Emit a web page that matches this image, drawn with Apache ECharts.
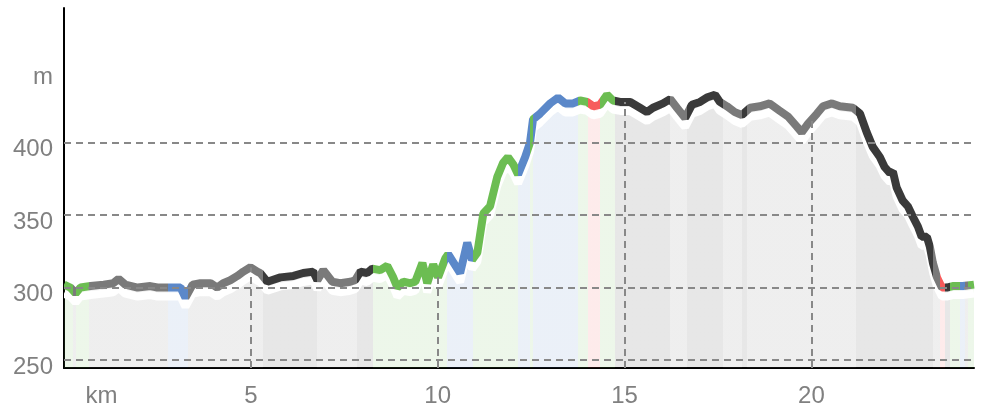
<!DOCTYPE html>
<html>
<head>
<meta charset="utf-8">
<script src="https://cdn.jsdelivr.net/npm/echarts@6/dist/echarts.min.js"></script>
<style>
html, body { margin: 0; padding: 0; background: #fff; }
#main { width: 983px; height: 408px; }
</style>
</head>
<body>
<div id="main"></div>
<script>
// elevation profile
var distKm = [0,0.17,0.31,0.44,0.71,1.06,1.32,1.46,1.64,1.97,
    2.31,2.50,2.77,3.12,3.25,3.44,3.65,3.92,4.10,4.26,
    4.45,4.64,4.80,4.99,5.17,5.25,5.44,5.79,6.14,6.40,
    6.67,6.78,6.94,7.18,7.39,7.66,7.79,7.93,8.11,8.25,
    8.46,8.65,8.81,8.92,9.08,9.26,9.40,9.59,9.72,9.88,
    10.01,10.20,10.28,10.60,10.79,10.92,11.06,11.22,11.40,11.59,
    11.75,11.88,12.02,12.15,12.34,12.47,12.55,12.74,13.01,13.22,
    13.41,13.62,13.81,14.00,14.16,14.34,14.53,14.69,14.88,15.15,
    15.41,15.60,15.76,16.03,16.22,16.40,16.62,16.80,17.02,17.20,
    17.42,17.55,17.74,17.95,18.14,18.36,18.62,18.88,19.15,19.37,
    19.61,19.74,19.91,20.15,20.31,20.55,20.76,21.11,21.30,21.48,
    21.64,21.83,21.96,22.10,22.18,22.28,22.44,22.58,22.71,22.85,
    22.95,23.09,23.17,23.25,23.36,23.49,23.62,23.78,24.05,24.35];
var elevM = [302,300,296,300,301,302,303,306,302,300,
    301,300,300,300,293,302,303,303,300,303,
    305,308,311,314,311,310,304,307,308,310,
    311,305,312,304,303,304,305,311,310,313,
    312,315,307,300,304,303,304,317,303,316,
    307,320,323,310,331,319,324,351,356,376,
    386,390,385,378,390,400,416,420,427,431,
    427,427,429,428,425,426,433,429,428,428,
    424,421,424,427,430,424,417,426,428,431,
    433,428,425,421,419,424,425,427,422,418,
    411,407,413,420,425,427,425,424,420,407,
    397,390,383,379,380,369,360,356,349,342,
    335,335,328,317,307,300,300,301,301,302];

// coloured sections of the track
var G = '#6cbd52', B = '#5b88c9', L = '#7a7a7a', D = '#3a3a3a', R = '#f75c5c';
var segStart = [0,0.25,0.33,0.66,2.77,3.33,5.33,6.76,7.85,8.28,
    10.26,10.95,12.15,12.47,12.55,13.76,14.03,14.34,14.75,16.22,
    16.67,17.64,18.14,18.27,21.19,23.25,23.44,23.57,23.70,23.97,
    24.10,24.18];
var segColor = [G,L,G,L,B,L,D,L,D,G,
    B,G,B,G,B,G,R,G,D,L,
    D,L,D,L,D,L,R,D,G,B,
    L,G];

var xTicks = [1, 5, 10, 15, 20];
var yTicks = [250, 300, 350, 400, 450];
var gridLevels = [250, 300, 350, 400];
var markKm = [5, 10, 15, 20];
var yMin = 244.5, yMax = 492.8, xMax = 24.35;

var profile = distKm.map(function (k, i) { return [k, elevM[i]]; });

function elevAt(k) {
    for (var i = 1; i < distKm.length; i++) {
        if (distKm[i] >= k) {
            var t = (k - distKm[i - 1]) / (distKm[i] - distKm[i - 1]);
            return elevM[i - 1] + t * (elevM[i] - elevM[i - 1]);
        }
    }
    return elevM[elevM.length - 1];
}

var pieces = segStart.map(function (s, i) {
    return { gte: s, lt: i < segStart.length - 1 ? segStart[i + 1] : 1000, color: segColor[i] };
});

var dash = { type: [7, 5], color: '#888', width: 2 };
var markData = gridLevels.map(function (v) { return { yAxis: v }; })
    .concat(markKm.map(function (k) {
        return [{ coord: [k, yMin] }, { coord: [k, elevAt(k)] }];
    }));

var chart = echarts.init(document.getElementById('main'));
var option = {
    animation: false,
    grid: { left: 64, right: 9, top: 8, bottom: 40, outerBoundsMode: 'none' },
    visualMap: {
        show: false,
        type: 'piecewise',
        dimension: 0,
        seriesIndex: [0, 1],
        pieces: pieces
    },
    xAxis: {
        type: 'value',
        min: 0,
        max: xMax,
        axisLine: { lineStyle: { color: '#000', width: 2 } },
        axisTick: { show: false },
        splitLine: { show: false },
        axisLabel: {
            customValues: xTicks,
            formatter: function (v) { return v === 1 ? 'km' : String(v); },
            color: '#808080',
            fontSize: 24,
            fontFamily: 'Liberation Sans, Arial, sans-serif',
            margin: 16
        }
    },
    yAxis: {
        type: 'value',
        min: yMin,
        max: yMax,
        axisLine: { show: true, lineStyle: { color: '#000', width: 2 } },
        axisTick: { show: false },
        splitLine: { show: false },
        axisLabel: {
            customValues: yTicks,
            formatter: function (v) { return v === 450 ? 'm' : String(v); },
            color: '#808080',
            fontSize: 24,
            fontFamily: 'Liberation Sans, Arial, sans-serif',
            margin: 11,
            verticalAlign: 'top',
            lineHeight: 14
        }
    },
    series: [
        {
            type: 'line',
            z: 1,
            data: profile,
            showSymbol: false,
            silent: true,
            lineStyle: { width: 0 },
            areaStyle: { opacity: 0.12 },
            markLine: {
                silent: true,
                symbol: ['none', 'none'],
                label: { show: false },
                lineStyle: dash,
                emphasis: { disabled: true },
                data: markData
            }
        },
        {
            type: 'line',
            z: 3,
            data: profile,
            showSymbol: false,
            silent: true,
            lineStyle: {
                width: 8,
                shadowColor: '#ffffff',
                shadowOffsetY: 9,
                shadowBlur: 0
            }
        }
    ]
};
chart.setOption(option);
</script>
</body>
</html>
